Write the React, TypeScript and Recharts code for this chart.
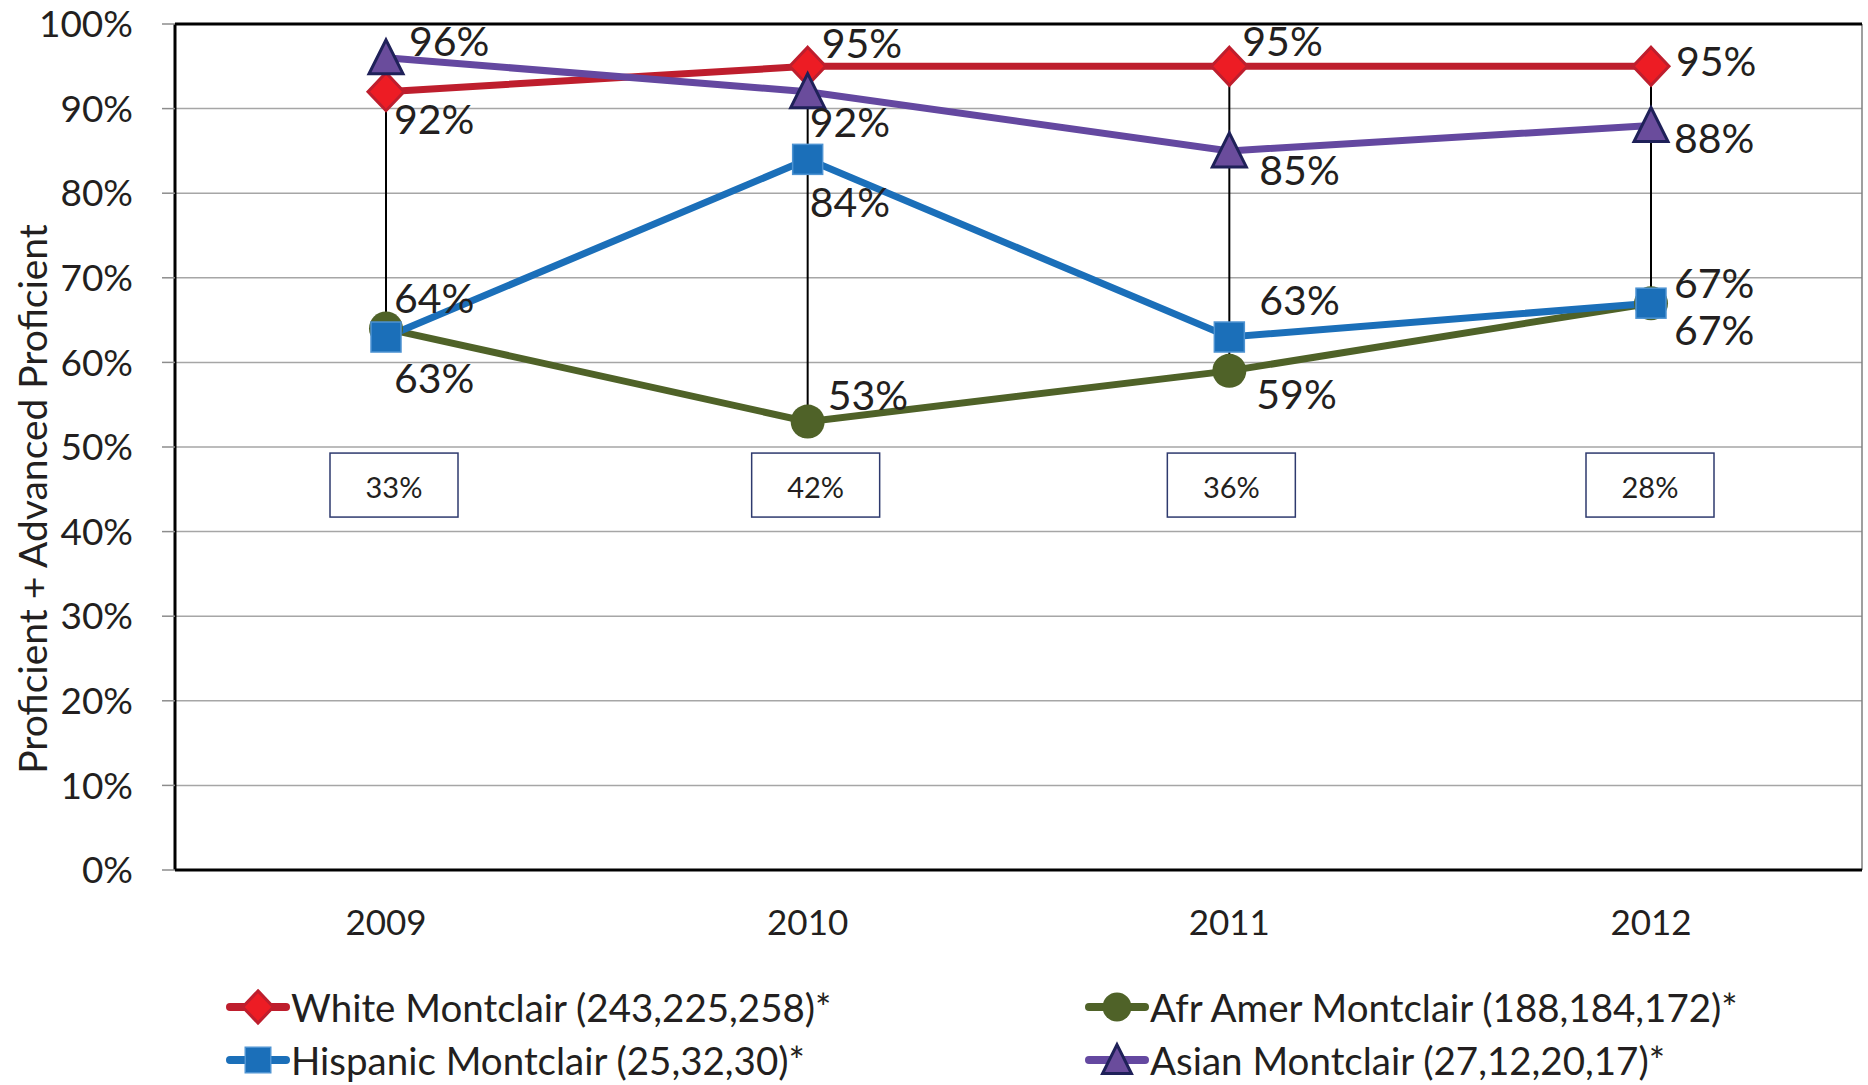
import {
  LineChart,
  Line,
  XAxis,
  YAxis,
  CartesianGrid,
  ReferenceLine,
  ReferenceDot,
  Legend,
  Label,
} from "recharts";

const years = ["2009", "2010", "2011", "2012"];
const white = [92, 95, 95, 95];
const afrAmer = [64, 53, 59, 67];
const hispanic = [63, 84, 63, 67];
const asian = [96, 92, 85, 88];
const gaps = [33, 42, 36, 28];
const yTicks = [0, 10, 20, 30, 40, 50, 60, 70, 80, 90, 100];
const seriesNames = [
  "White Montclair (243,225,258)*",
  "Afr Amer Montclair (188,184,172)*",
  "Hispanic Montclair (25,32,30)*",
  "Asian Montclair (27,12,20,17)*",
];

const data = years.map((year, i) => ({
  year,
  white: white[i],
  afrAmer: afrAmer[i],
  hispanic: hispanic[i],
  asian: asian[i],
  lo: Math.min(white[i], afrAmer[i], hispanic[i], asian[i]),
  hi: Math.max(white[i], afrAmer[i], hispanic[i], asian[i]),
}));

const FONT = "Lato, 'Open Sans', sans-serif";
const TEXT = "#231F20";
const RED = "#BE1E2D";
const GREEN = "#4F6228";
const BLUE = "#1B6FB9";
const PURPLE = "#6448A0";

// label offsets (px) from each point, per series
const labelOffsets: Record<string, number[][]> = {
  white: [[8, 27], [14, -24], [13, -26], [25, -6]],
  afrAmer: [[8, -31], [20, -27], [27, 23], [23, 26]],
  hispanic: [[8, 40], [2, 42], [30, -38], [23, -21]],
  asian: [[23, -17], [2, 30], [30, 19], [23, 12]],
};
// horizontal nudge of the gap boxes
const boxShift = [8, 8, 2, -1];

const Diamond = ({ cx, cy, s = 1 }: any) => (
  <polygon
    points={`${cx},${cy - 19 * s} ${cx + 18 * s},${cy} ${cx},${cy + 19 * s} ${cx - 18 * s},${cy}`}
    fill="#ED1C24"
    stroke={RED}
    strokeWidth={3}
  />
);
const Circle = ({ cx, cy, s = 1 }: any) => <circle cx={cx} cy={cy} r={17 * s} fill={GREEN} />;
const Square = ({ cx, cy, s = 1 }: any) => (
  <rect
    x={cx - 15 * s}
    y={cy - 15 * s}
    width={30 * s}
    height={30 * s}
    fill={BLUE}
    stroke="#4E93D2"
    strokeWidth={1.5}
  />
);
const Triangle = ({ cx, cy, s = 1 }: any) => (
  <polygon
    points={`${cx},${cy - 18 * s} ${cx + 17 * s},${cy + 16 * s} ${cx - 17 * s},${cy + 16 * s}`}
    fill="#6A4C9C"
    stroke="#1F2159"
    strokeWidth={3}
  />
);

const dotFn = (Shape: any) => (props: any) => (
  <g key={`dot-${props.index}`}>
    <Shape cx={props.cx} cy={props.cy} />
  </g>
);

const labelFn = (key: string) => (props: any) => {
  const off = labelOffsets[key][props.index] || [0, 0];
  return (
    <text
      key={`lbl-${key}-${props.index}`}
      x={props.x + off[0]}
      y={props.y + off[1]}
      dominantBaseline="central"
      textAnchor="start"
      fontFamily={FONT}
      fontSize={41}
      fill={TEXT}
    >
      {props.value}%
    </text>
  );
};

const GapBox = (props: any) => {
  const { cx, cy, value, shift } = props;
  return (
    <g>
      <rect x={cx + shift - 64} y={cy - 32} width={128} height={64} fill="#fff" stroke="#2E3A6E" strokeWidth={1.5} />
      <text
        x={cx + shift}
        y={cy + 1}
        textAnchor="middle"
        dominantBaseline="central"
        fontFamily={FONT}
        fontSize={29}
        fill={TEXT}
      >
        {value}%
      </text>
    </g>
  );
};

const legendItems = [
  { name: seriesNames[0], color: RED, Shape: Diamond, x: 230, y: 47 },
  { name: seriesNames[1], color: GREEN, Shape: Circle, x: 1089, y: 47 },
  { name: seriesNames[2], color: BLUE, Shape: Square, x: 230, y: 100 },
  { name: seriesNames[3], color: PURPLE, Shape: Triangle, x: 1089, y: 100 },
];

const renderLegend = () => (
  <svg width={1868} height={125}>
    {legendItems.map((it) => (
      <g key={it.name}>
        <line x1={it.x} x2={it.x + 56} y1={it.y} y2={it.y} stroke={it.color} strokeWidth={8} strokeLinecap="round" />
        <it.Shape cx={it.x + 28} cy={it.y} s={0.85} />
        <text
          x={it.x + 61}
          y={it.y}
          dominantBaseline="central"
          fontFamily={FONT}
          fontSize={38.5}
          fill={TEXT}
        >
          {it.name}
        </text>
      </g>
    ))}
  </svg>
);

const renderYTitle = () => (
  <text
    x={32}
    y={499}
    transform="rotate(-90 32 499)"
    textAnchor="middle"
    dominantBaseline="central"
    fontFamily={FONT}
    fontSize={39}
    fill={TEXT}
  >
    Proficient + Advanced Proficient
  </text>
);

export default function App() {
  return (
    <div style={{ position: "absolute", left: 0, top: 0, width: 1868, height: 1085, background: "#fff" }}>
      <LineChart width={1868} height={1085} data={data} margin={{ top: 24, right: 6, bottom: 0, left: 0 }}>
        <CartesianGrid horizontal={true} vertical={false} stroke="#A6A6A6" strokeWidth={1.5} />
        <CartesianGrid xAxisId="grid" horizontal={false} vertical={true} stroke="#7F7F7F" strokeWidth={1.5} />
        <XAxis
          dataKey="year"
          padding={{ left: 211, right: 211 }}
          height={215}
          axisLine={false}
          tickLine={false}
          tickSize={0}
          tickMargin={40}
          tick={{ fontFamily: FONT, fontSize: 35, fill: TEXT }}
        />
        <XAxis
          xAxisId="grid"
          type="number"
          domain={[0, 4]}
          ticks={[0, 1, 2, 3, 4]}
          height={0}
          axisLine={false}
          tick={false}
          tickSize={12}
          stroke="#A6A6A6"
        />
        <YAxis
          domain={[0, 100]}
          ticks={yTicks}
          width={175}
          tickFormatter={(v) => `${v}%`}
          axisLine={false}
          tickSize={13}
          tickMargin={29}
          tickLine={{ stroke: "#8C8C8C", strokeWidth: 1.5 }}
          tick={{ fontFamily: FONT, fontSize: 37, fill: TEXT }}
          label={<Label content={renderYTitle} />}
        />
        {/* plot frame */}
        <ReferenceLine y={100} stroke="#000" strokeWidth={3} />
        <ReferenceLine y={0} stroke="#000" strokeWidth={3} />
        <ReferenceLine xAxisId="grid" x={0} stroke="#000" strokeWidth={3} />
        <ReferenceLine xAxisId="grid" x={4} stroke="#000" strokeWidth={3} />
        {gaps.map((g, i) => (
          <ReferenceDot
            key={`gap-${i}`}
            x={years[i]}
            y={45.5}
            r={0}
            shape={(p: any) => <GapBox {...p} value={g} shift={boxShift[i]} />}
          />
        ))}
        <Line
          dataKey="white"
          stroke={RED}
          strokeWidth={7}
          dot={dotFn(Diamond)}
          label={labelFn("white")}
          isAnimationActive={false}
        />
        <Line
          dataKey="afrAmer"
          stroke={GREEN}
          strokeWidth={7}
          dot={dotFn(Circle)}
          label={labelFn("afrAmer")}
          isAnimationActive={false}
        />
        <Line
          dataKey="hispanic"
          stroke={BLUE}
          strokeWidth={7}
          dot={dotFn(Square)}
          label={labelFn("hispanic")}
          isAnimationActive={false}
        />
        <Line
          dataKey="asian"
          stroke={PURPLE}
          strokeWidth={7}
          dot={dotFn(Triangle)}
          label={labelFn("asian")}
          isAnimationActive={false}
        />
        {data.map((d) => (
          <ReferenceLine
            key={`rng-${d.year}`}
            segment={[
              { x: d.year, y: d.hi },
              { x: d.year, y: d.lo },
            ]}
            stroke="#000"
            strokeWidth={2}
          />
        ))}
        <Legend
          verticalAlign="middle"
          align="center"
          layout="horizontal"
          content={renderLegend}
          wrapperStyle={{ top: 960, left: 0, width: 1868, height: 125 }}
        />
      </LineChart>
    </div>
  );
}
